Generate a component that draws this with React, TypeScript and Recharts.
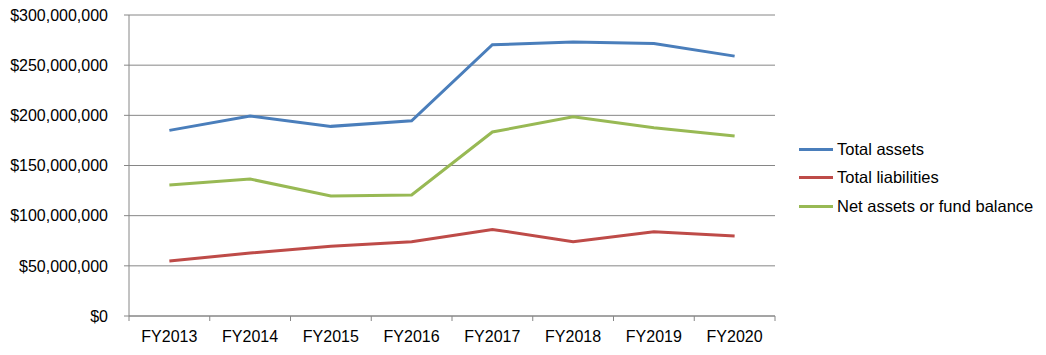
import { LineChart, Line, XAxis, YAxis, CartesianGrid } from 'recharts';

const years = ['FY2013', 'FY2014', 'FY2015', 'FY2016', 'FY2017', 'FY2018', 'FY2019', 'FY2020'];
const totalAssets = [185.0, 199.3, 189.0, 194.6, 270.4, 273.0, 271.7, 259.0];
const totalLiabilities = [54.8, 62.8, 69.4, 74.1, 86.3, 74.1, 84.0, 79.7];
const netAssets = [130.6, 136.5, 119.6, 120.6, 183.4, 198.6, 187.7, 179.4];
const yTicks = [0, 50, 100, 150, 200, 250, 300];
const xTicks = [0, 1, 2, 3, 4, 5, 6, 7, 8];

const series = [
  { key: 'assets', name: 'Total assets', color: '#4A7EBB' },
  { key: 'liabilities', name: 'Total liabilities', color: '#BE4B48' },
  { key: 'net', name: 'Net assets or fund balance', color: '#98B954' },
];

const data = years.map((year, i) => ({
  year,
  x: i + 0.5,
  assets: totalAssets[i] * 1e6,
  liabilities: totalLiabilities[i] * 1e6,
  net: netAssets[i] * 1e6,
}));

const W = 1046;
const H = 355;
const LEFT = 129;
const RIGHT = 271;
const halfBand = (W - LEFT - RIGHT) / years.length / 2;
const FONT = '"Liberation Sans", Arial, sans-serif';
const GRID = '#868686';

const money = (v: number) => '$' + v.toLocaleString('en-US');

function CategoryTick(props: any) {
  const { x, y, payload } = props;
  const label = years[payload.value];
  if (!label) return null;
  return (
    <text x={x + halfBand} y={y} dy={19} textAnchor="middle" fill="#000" fontSize={16} fontFamily={FONT}>
      {label}
    </text>
  );
}

export default function App() {
  return (
    <div style={{ position: 'absolute', left: 0, top: 0, width: W, height: H, background: '#fff' }}>
      <LineChart width={W} height={H} data={data} margin={{ top: 15, right: RIGHT, left: 0, bottom: 0 }}>
        <CartesianGrid vertical={false} stroke={GRID} />
        <XAxis
          dataKey="x"
          type="number"
          domain={[0, 8]}
          ticks={xTicks}
          interval={0}
          height={39}
          stroke={GRID}
          tickSize={5}
          tick={<CategoryTick />}
        />
        <YAxis
          domain={[0, 300e6]}
          ticks={yTicks.map((t) => t * 1e6)}
          width={LEFT}
          stroke={GRID}
          tickSize={5}
          tickMargin={16}
          tickFormatter={money}
          tick={{ fill: '#000', fontSize: 16, fontFamily: FONT }}
        />
        {series.map((s) => (
          <Line
            key={s.key}
            dataKey={s.key}
            name={s.name}
            stroke={s.color}
            strokeWidth={3}
            dot={false}
            activeDot={false}
            isAnimationActive={false}
          />
        ))}
      </LineChart>
      <div style={{ position: 'absolute', left: 799, top: 135, fontFamily: FONT, fontSize: 16.5, color: '#000' }}>
        {series.map((s) => (
          <div key={s.key} style={{ display: 'flex', alignItems: 'center', height: 28.5, whiteSpace: 'nowrap' }}>
            <span style={{ display: 'inline-block', width: 34, height: 3, background: s.color, marginRight: 4 }} />
            {s.name}
          </div>
        ))}
      </div>
    </div>
  );
}
